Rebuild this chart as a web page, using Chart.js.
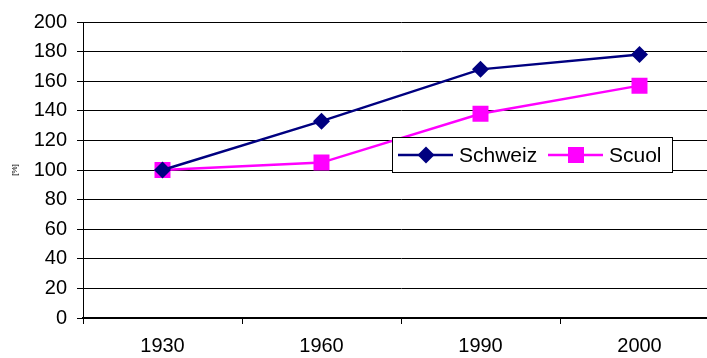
<!DOCTYPE html>
<html>
<head>
<meta charset="utf-8">
<style>
  html, body { margin: 0; padding: 0; background: #fff; overflow: hidden; }
  #wrap { width: 740px; height: 358px; }
</style>
</head>
<body>
<div id="wrap">
  <canvas id="myChart" width="740" height="358"></canvas>
</div>

<script src="https://cdn.jsdelivr.net/npm/chart.js"></script>
<script>
  const years = ['1930', '1960', '1990', '2000'];
  const schweiz = [100, 133, 168, 178];
  const scuol = [100, 105, 138, 157];
  const yTicks = [0, 20, 40, 60, 80, 100, 120, 140, 160, 180, 200];

  const navy = '#000080';
  const magenta = '#FF00FF';

  // legend box sits inside the plot like in the old excel chart
  const boxLegend = {
    id: 'boxLegend',
    afterDraw(chart) {
      const ctx = chart.ctx;
      const x0 = 392.5, y0 = 137.5, w = 280, h = 35;
      ctx.save();
      ctx.fillStyle = '#fff';
      ctx.fillRect(x0, y0, w, h);
      ctx.strokeStyle = '#000';
      ctx.lineWidth = 1;
      ctx.strokeRect(x0, y0, w, h);
      const cy = y0 + h / 2;
      const starts = [398, 548];
      ctx.font = '21px "Liberation Sans", Arial, sans-serif';
      ctx.textBaseline = 'middle';
      chart.data.datasets.forEach((ds, i) => {
        const sx = starts[i];
        ctx.strokeStyle = ds.borderColor;
        ctx.lineWidth = 2.5;
        ctx.beginPath();
        ctx.moveTo(sx, cy);
        ctx.lineTo(sx + 55, cy);
        ctx.stroke();
        const mx = sx + 28;
        ctx.fillStyle = ds.backgroundColor;
        ctx.beginPath();
        if (ds.pointStyle === 'rectRot') {
          const r = ds.pointRadius;
          ctx.moveTo(mx, cy - r);
          ctx.lineTo(mx + r, cy);
          ctx.lineTo(mx, cy + r);
          ctx.lineTo(mx - r, cy);
          ctx.closePath();
        } else {
          const s = ds.pointRadius * Math.SQRT1_2;
          ctx.rect(mx - s, cy - s, 2 * s, 2 * s);
        }
        ctx.fill();
        ctx.fillStyle = '#000';
        ctx.fillText(ds.label, sx + 61, cy + 1);
      });
      ctx.restore();
    }
  };

  new Chart(document.getElementById('myChart'), {
    type: 'line',
    data: {
      labels: years,
      datasets: [
        {
          label: 'Schweiz',
          data: schweiz,
          borderColor: navy,
          backgroundColor: navy,
          borderWidth: 2.5,
          pointStyle: 'rectRot',
          pointRadius: 8.5,
          pointBorderWidth: 0,
          tension: 0
        },
        {
          label: 'Scuol',
          data: scuol,
          borderColor: magenta,
          backgroundColor: magenta,
          borderWidth: 2.5,
          pointStyle: 'rect',
          pointRadius: 11.3,
          pointBorderWidth: 0,
          tension: 0
        }
      ]
    },
    options: {
      responsive: false,
      animation: false,
      layout: { padding: { top: 22, right: 21, left: 0, bottom: 0 } },
      plugins: {
        legend: { display: false },
        tooltip: { enabled: false }
      },
      scales: {
        x: {
          offset: true,
          grid: {
            offset: true,
            drawOnChartArea: false,
            drawTicks: true,
            tickLength: 6,
            color: '#000'
          },
          border: { color: '#000', width: 2 },
          ticks: {
            color: '#000',
            padding: 10,
            maxRotation: 0,
            font: { family: '"Liberation Sans", Arial, sans-serif', size: 20 }
          },
          afterFit(scale) { scale.height = 40; }
        },
        y: {
          min: 0,
          max: 200,
          afterBuildTicks(scale) { scale.ticks = yTicks.map(v => ({ value: v })); },
          grid: {
            color: '#000',
            lineWidth: 1,
            tickLength: 6
          },
          border: { color: '#000', width: 1 },
          ticks: {
            color: '#000',
            padding: 10,
            font: { family: '"Liberation Sans", Arial, sans-serif', size: 20 }
          },
          title: {
            display: true,
            text: '[%]',
            color: '#000',
            padding: { top: 10, bottom: 0 },
            font: { family: '"Liberation Sans", Arial, sans-serif', size: 8 }
          },
          afterFit(scale) { scale.width = 83; }
        }
      }
    },
    plugins: [boxLegend]
  });
</script>
</body>
</html>
